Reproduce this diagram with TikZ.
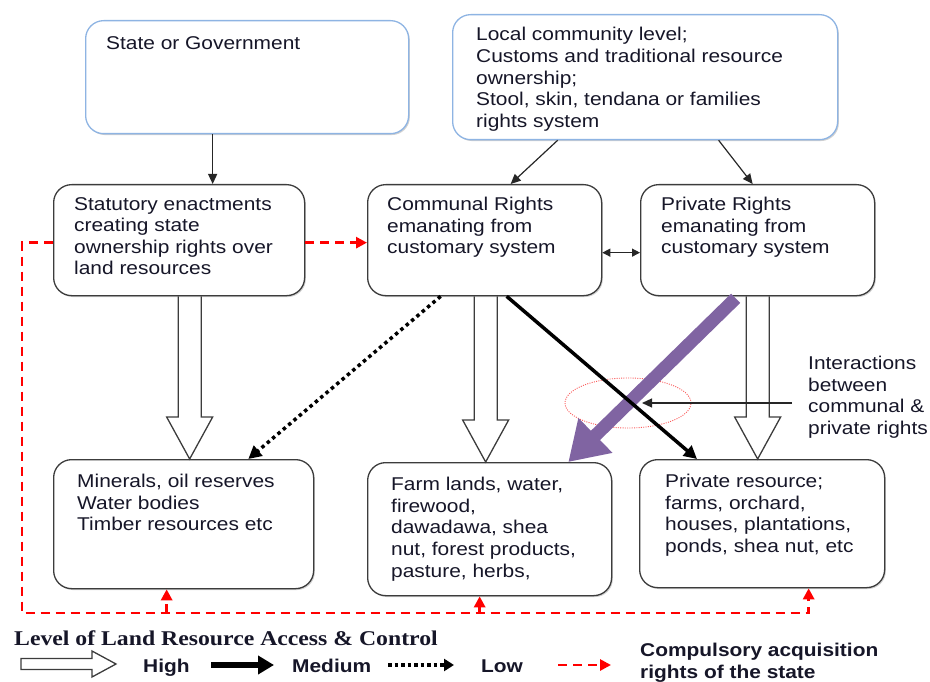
\documentclass[tikz,border=0pt]{standalone}
\usepackage{fontspec}
\setmainfont[FakeStretch=1.13]{Liberation Sans}
\newfontfamily\legendserif[FakeStretch=1.13]{Liberation Serif}
\usetikzlibrary{arrows.meta,calc,shapes.geometric,shadows}

\definecolor{boxline}{RGB}{60,60,60}
\definecolor{blueline}{RGB}{142,180,227}
\definecolor{inkc}{RGB}{22,22,40}
\definecolor{purplearrow}{RGB}{128,100,162}
\definecolor{acqred}{RGB}{255,0,0}
\definecolor{ringred}{RGB}{250,90,90}

\tikzset{
  panel/.style={draw=boxline, line width=1.3pt, rounded corners=18pt, fill=white,
    inner sep=0pt, anchor=north west,
    drop shadow={shadow xshift=1.2pt, shadow yshift=-1.4pt, fill=black!40, opacity=.45}},
  toppanel/.style={panel, draw=blueline},
  txt/.style={anchor=north west, inner sep=0pt, align=left, text=inkc,
    font=\fontsize{18.5}{21.6}\selectfont, execute at begin node=\strut},
  leg/.style={anchor=base west, inner sep=0pt, text=inkc,
    font=\bfseries\fontsize{18.5}{21.6}\selectfont},
  hollow/.style={draw=boxline, line width=1.3pt, line join=miter},
  thinarrow/.style={draw=black!85, line width=1.2pt, -{Triangle[length=10pt,width=9pt]}},
  medarrow/.style={draw=black, line width=3.5pt, -{Triangle[length=13pt,width=13pt]}},
  lowarrow/.style={draw=black, line width=3.5pt, dash pattern=on 3.5pt off 3.5pt,
    -{Triangle[length=13pt,width=13pt]}},
  acq/.style={draw=acqred, line width=2.8pt, dash pattern=on 9pt off 6pt},
  acqtip/.style={-{Triangle[length=11pt,width=11pt]}}
}

% downward block arrow from #1 to the tip #2 (same x)
\newcommand\openarrowdown[2]{%
  \draw[hollow] ($(#1)+(-11.5,0)$) -- ($(#2)+(-11.5,-42)$) -- ($(#2)+(-23,-42)$)
    -- (#2) -- ($(#2)+(23,-42)$) -- ($(#2)+(11.5,-42)$) -- ($(#1)+(11.5,0)$);}

\begin{document}
\begin{tikzpicture}[x=1pt,y=-1pt]
\useasboundingbox (0,0) rectangle (930,682);

% ---------- panels ----------
\node[toppanel, minimum width=323pt, minimum height=113pt] (gov) at (85,20) {};
\node[toppanel, minimum width=385pt, minimum height=125pt] (loc) at (452,14) {};
\node[panel, minimum width=251pt, minimum height=111pt] (stat) at (53,184) {};
\node[panel, minimum width=234pt, minimum height=111pt] (comm) at (367,184) {};
\node[panel, minimum width=234pt, minimum height=111pt] (priv) at (640,184) {};
\node[panel, minimum width=260pt, minimum height=129pt] (minr) at (53,459) {};
\node[panel, minimum width=244pt, minimum height=133pt] (farm) at (367,462) {};
\node[panel, minimum width=245pt, minimum height=128pt] (pres) at (639,459) {};

% ---------- panel texts ----------
\node[txt] (govt) at ($(gov.north west)+(21,14)$) {State or Government};
\node[txt] (loct) at ($(loc.north west)+(24,13.3)$)
  {Local community level;\\Customs and traditional resource\\ownership;\\Stool, skin, tendana or families\\rights system};
\node[txt] (statt) at ($(stat.north west)+(21,13)$)
  {Statutory enactments\\creating state\\ownership rights over\\land resources};
\node[txt] (commt) at ($(comm.north west)+(20,13)$)
  {Communal Rights\\emanating from\\customary system};
\node[txt] (privt) at ($(priv.north west)+(21,13)$)
  {Private Rights\\emanating from\\customary system};
\node[txt] (minrt) at ($(minr.north west)+(24,15)$)
  {Minerals, oil reserves\\Water bodies\\Timber resources etc};
\node[txt] (farmt) at ($(farm.north west)+(24,15)$)
  {Farm lands, water,\\firewood,\\dawadawa, shea\\nut, forest products,\\pasture, herbs,};
\node[txt] (prest) at ($(pres.north west)+(26,15)$)
  {Private resource;\\farms, orchard,\\houses, plantations,\\ponds, shea nut, etc};
\node[txt] (inter) at (808,356)
  {Interactions\\between\\communal \&\\private rights};

% ---------- thin connectors ----------
\draw[thinarrow] ($(gov.south)+(-34.5,0)$) -- ($(stat.north)+(33.5,0)$);
\draw[thinarrow] ($(loc.south)+(-87.5,0)$) -- ($(comm.north)+(26,0)$);
\draw[thinarrow] ($(loc.south)+(73.5,0)$) -- ($(priv.north)+(-5,0)$);
\draw[draw=black!85, line width=1.2pt, {Triangle[length=8pt,width=8pt]}-{Triangle[length=8pt,width=8pt]}]
  ($(comm.east)+(0,12.5)$) -- ($(priv.west)+(0,12.5)$);

% ---------- high level: block arrows ----------
\coordinate (h1s) at ($(stat.south)+(10.5,0)$);
\coordinate (h1e) at (h1s |- minr.north);
\coordinate (h2s) at ($(comm.south)+(1,0)$);
\coordinate (h2e) at (h2s |- farm.north);
\coordinate (h3s) at (priv.south);
\coordinate (h3e) at (h3s |- pres.north);
\openarrowdown{h1s}{h1e}
\openarrowdown{h2s}{h2e}
\openarrowdown{h3s}{h3e}

% ---------- interaction zone ----------
\node[draw=ringred, line width=0.9pt, dash pattern=on 1pt off 1.3pt, ellipse,
  minimum width=126pt, minimum height=50pt, inner sep=0pt] (ell) at (628,403) {};
\draw[draw=purplearrow, line width=13pt, -{Triangle[length=38pt,width=46pt]}]
  ($(priv.south)+(-22,2)$) -- ($(farm.north east)+(-44,0)$);
\draw[lowarrow] ($(comm.south)+(-44,0)$) -- ($(minr.north east)+(-66,0)$);
\draw[medarrow] ($(comm.south)+(22,0)$) -- ($(pres.north west)+(58,0)$);
\coordinate (ia) at (792,403);
\draw[thinarrow] (ia) -- ($(ell.center)+(14,0)$);

% ---------- compulsory acquisition ----------
\draw[acq, acqtip] ($(stat.east)+(0,2.5)$) -- ($(comm.west)+(0,2.5)$);
\coordinate (rc) at (22,613);
\coordinate (rp) at ($(pres.south)+(46.5,0)$);
\coordinate (mtip) at ($(minr.south)+(-17,0)$);
\coordinate (ftip) at ($(farm.south)+(-10,0)$);
\draw[acq, acqtip] ($(stat.west)+(0,2.5)$) -| (rc) -| (rp);
\draw[acq, acqtip] (mtip |- rc) -- (mtip);
\draw[acq, acqtip] (ftip |- rc) -- (ftip);

% ---------- legend ----------
\node[anchor=base west, inner sep=0pt, text=inkc,
  font=\legendserif\bfseries\fontsize{21}{24}\selectfont] (ltitle) at (14,645)
  {Level of Land Resource Access \& Control};
\coordinate (la1) at (21,664);
\coordinate (la2) at (116,664);
\draw[hollow] ($(la1)+(0,-5.5)$) -- ($(la2)+(-24,-5.5)$) -- ($(la2)+(-24,-13)$) -- (la2)
  -- ($(la2)+(-24,13)$) -- ($(la2)+(-24,5.5)$) -- ($(la1)+(0,5.5)$) -- cycle;
\node[leg] (lhigh) at (143,672) {High};
\coordinate (lb1) at (211,665);
\coordinate (lb2) at (274,665);
\draw[line width=6pt, -{Triangle[length=16pt,width=18pt]}] (lb1) -- (lb2);
\node[leg] (lmed) at (292,672) {Medium};
\coordinate (lc1) at (388,665);
\coordinate (lc2) at (454,665);
\draw[line width=4pt, dash pattern=on 3.5pt off 3pt, -{Triangle[length=10pt,width=12pt]}] (lc1) -- (lc2);
\node[leg] (llow) at (481,672) {Low};
\coordinate (ld1) at (558,665);
\coordinate (ld2) at (611,665);
\draw[acq, acqtip] (ld1) -- (ld2);
\node[leg, anchor=north west, align=left, execute at begin node=\strut] (lacq) at (640,643)
  {Compulsory acquisition\\rights of the state};
\end{tikzpicture}
\end{document}
